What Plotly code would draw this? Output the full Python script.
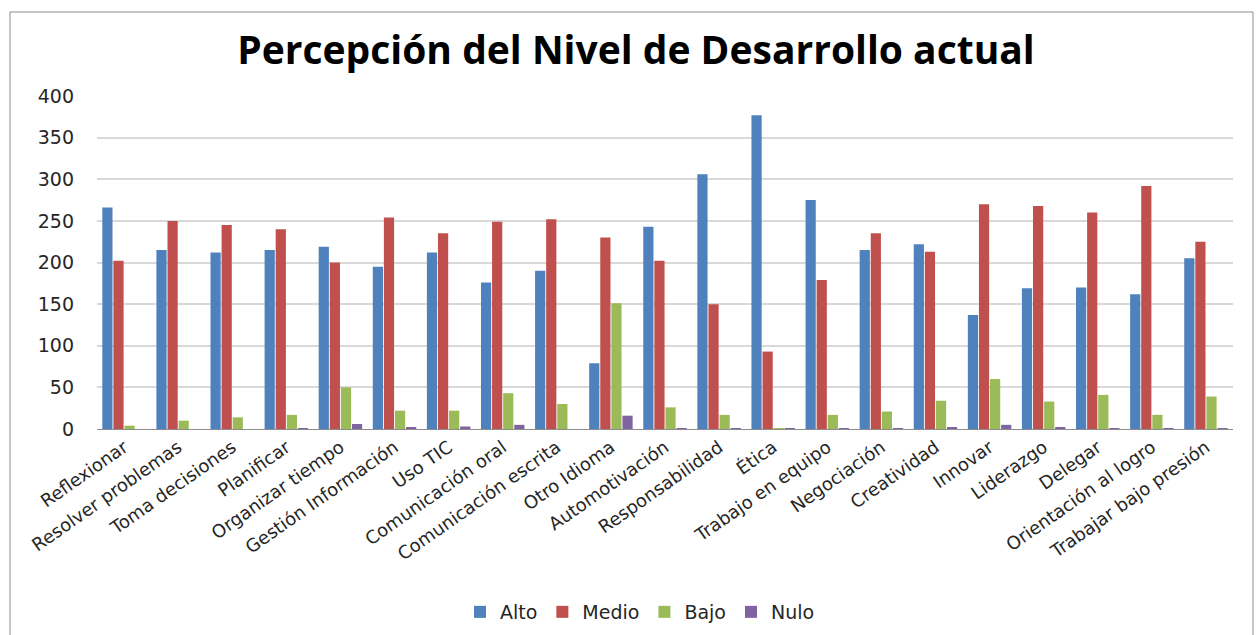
import plotly.graph_objects as go

categories = ["Reflexionar", "Resolver problemas", "Toma decisiones", "Planificar",
              "Organizar tiempo", "Gestión Información", "Uso TIC", "Comunicación oral",
              "Comunicación escrita", "Otro Idioma", "Automotivación", "Responsabilidad",
              "Ética", "Trabajo en equipo", "Negociación", "Creatividad", "Innovar",
              "Liderazgo", "Delegar", "Orientación al logro", "Trabajar bajo presión"]
alto = [266, 215, 212, 215, 219, 195, 212, 176, 190, 79, 243, 306, 377, 275, 215, 222, 137, 169, 170, 162, 205]
medio = [202, 250, 245, 240, 200, 254, 235, 249, 252, 230, 202, 150, 93, 179, 235, 213, 270, 268, 260, 292, 225]
bajo = [4, 10, 14, 17, 50, 22, 22, 43, 30, 151, 26, 17, 1, 17, 21, 34, 60, 33, 41, 17, 39]
nulo = [0, 0, 0, 1, 6, 2, 3, 5, 0, 16, 1, 1, 1, 1, 1, 2, 5, 2, 1, 1, 1]
y_ticks = [0, 50, 100, 150, 200, 250, 300, 350, 400]

series = [("Alto", alto, "#4F81BD"), ("Medio", medio, "#C0504D"),
          ("Bajo", bajo, "#9BBB59"), ("Nulo", nulo, "#8064A2")]

fig = go.Figure()
for name, vals, col in series:
    fig.add_trace(go.Bar(x=categories, y=vals, name=name, marker_color=col,
                         marker_line_width=0))

W, H = 1258, 635
L, R, T, B = 97, 25, 96, 206
pw, ph = W - L - R, H - T - B

def px_x(x):
    return (x - L) / pw

def px_y(y):
    return (H - B - y) / ph

fig.update_layout(
    width=W, height=H,
    margin=dict(l=L, r=R, t=T, b=B, autoexpand=False),
    paper_bgcolor="white", plot_bgcolor="white",
    barmode="group", bargap=0.18, bargroupgap=0.08,
    title=dict(text="<b>Percepción del Nivel de Desarrollo actual</b>",
               x=636 / W, xref="container", xanchor="center",
               y=1 - 50 / H, yanchor="middle",
               font=dict(family="Open Sans", size=39, color="#000000")),
    font=dict(family="DejaVu Sans", color="#262626"),
    showlegend=True,
    legend=dict(orientation="h", x=px_x(640), xanchor="center",
                y=px_y(612), yanchor="middle",
                font=dict(family="DejaVu Sans", size=19, color="#262626"),
                itemwidth=30, traceorder="normal"),
    xaxis=dict(tickangle=-35, tickfont=dict(family="DejaVu Sans", size=18, color="#262626"),
               showgrid=False, showline=True, linecolor="#8c8c8c", linewidth=1,
               ticks="", automargin=False),
    yaxis=dict(range=[0, 400], tickvals=y_ticks, showgrid=True, gridcolor="#d9d9d9",
               gridwidth=1.5, zeroline=False, showline=False, automargin=False,
               tickfont=dict(family="DejaVu Sans", size=19, color="#262626"),
               ticklabelstandoff=22),
    shapes=[dict(type="rect", xref="paper", yref="paper",
                 x0=px_x(10), x1=px_x(1253), y0=px_y(660), y1=px_y(12),
                 line=dict(color="#8c8c8c", width=1), fillcolor="rgba(0,0,0,0)",
                 layer="below")],
)

fig.write_html("out.html", config={"displayModeBar": False},
               post_script="document.body.style.margin='0';document.body.style.overflow='hidden';")
